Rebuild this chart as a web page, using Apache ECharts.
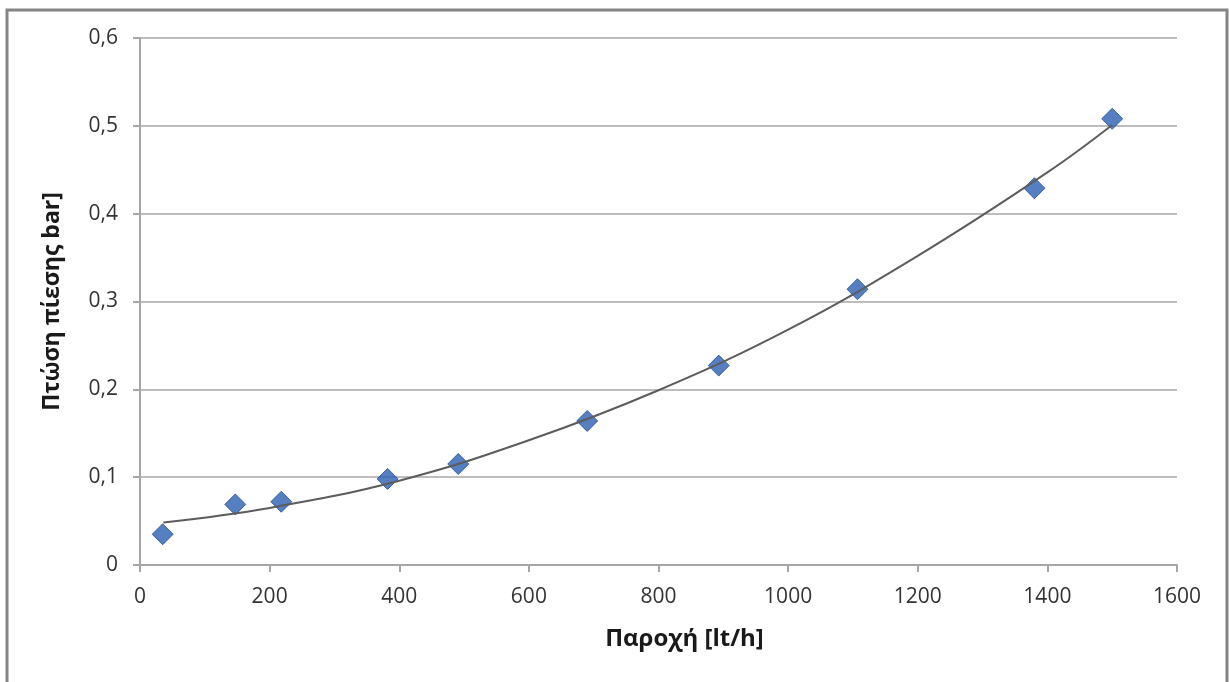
<!DOCTYPE html>
<html>
<head>
<meta charset="utf-8">
<script src="https://cdn.jsdelivr.net/npm/echarts@6/dist/echarts.min.js"></script>
<style>
  html, body { margin: 0; padding: 0; background: #ffffff; }
  #chart { width: 1229px; height: 682px; }
</style>
</head>
<body>
<div id="chart"></div>
<script>
// Measured points (flow lt/h, pressure drop bar)
const flowValues = [35, 147, 218, 382, 491, 690, 893, 1107, 1380, 1500];
const dropValues = [0.035, 0.069, 0.072, 0.098, 0.115, 0.164, 0.227, 0.314, 0.429, 0.508];
// Trend line
const trendFlow = [36, 200, 400, 600, 800, 1000, 1200, 1400, 1500];
const trendDrop = [0.0485, 0.065, 0.096, 0.142, 0.199, 0.268, 0.352, 0.447, 0.501];
// Axis settings
const xAxisTitle = 'Παροχή [lt/h]';
const yAxisTitle = 'Πτώση πίεσης bar]';
const xMin = 0, xMax = 1600, xStep = 200;
const yMin = 0, yMax = 0.6, yStep = 0.1;

const scatterData = flowValues.map((x, i) => [x, dropValues[i]]);
const trendData = trendFlow.map((x, i) => [x, trendDrop[i]]);

const chart = echarts.init(document.getElementById('chart'), null, { renderer: 'canvas' });
const fontFamily = '"Open Sans", "DejaVu Sans", sans-serif';

chart.setOption({
  backgroundColor: '#ffffff',
  animation: false,
  graphic: [{
    type: 'rect',
    shape: { x: 7, y: 10, width: 1220, height: 700 },
    style: { fill: 'none', stroke: '#858585', lineWidth: 3 },
    silent: true
  }],
  grid: { left: 140, right: 52, top: 38, bottom: 117, containLabel: false },
  xAxis: {
    type: 'value',
    min: xMin, max: xMax, interval: xStep,
    name: xAxisTitle,
    nameLocation: 'middle',
    nameGap: 62,
    nameTextStyle: { fontFamily, fontSize: 24, fontWeight: 'bold', color: '#1a1a1a', padding: [0, 0, 0, 52] },
    axisLine: { show: true, lineStyle: { color: '#a6a6a6', width: 2 } },
    axisTick: { show: true, length: 7, lineStyle: { color: '#a6a6a6', width: 2 } },
    axisLabel: {
      fontFamily, fontSize: 21, color: '#333333', margin: 22,
      formatter: v => String(v)
    },
    splitLine: { show: false }
  },
  yAxis: {
    type: 'value',
    min: yMin, max: yMax, interval: yStep,
    name: yAxisTitle,
    nameLocation: 'middle',
    nameGap: 76,
    nameRotate: 90,
    nameTextStyle: { fontFamily, fontSize: 23, fontWeight: 'bold', color: '#1a1a1a' },
    axisLine: { show: true, lineStyle: { color: '#a6a6a6', width: 2 } },
    axisTick: { show: true, length: 7, lineStyle: { color: '#a6a6a6', width: 2 } },
    axisLabel: {
      fontFamily, fontSize: 21, color: '#333333', margin: 22,
      formatter: v => (Math.round(v * 10) / 10).toString().replace('.', ',')
    },
    splitLine: { show: true, lineStyle: { color: '#bdbdbd', width: 2 } }
  },
  series: [
    {
      type: 'scatter',
      data: scatterData,
      symbol: 'diamond',
      symbolSize: 21,
      itemStyle: { color: '#2a5fb0', borderColor: '#1f4f99', borderWidth: 1 },
      z: 2
    },
    {
      type: 'line',
      data: trendData,
      smooth: 0.4,
      showSymbol: false,
      lineStyle: { color: '#5c5c5c', width: 2 },
      z: 3
    }
  ]
});
</script>
</body>
</html>
